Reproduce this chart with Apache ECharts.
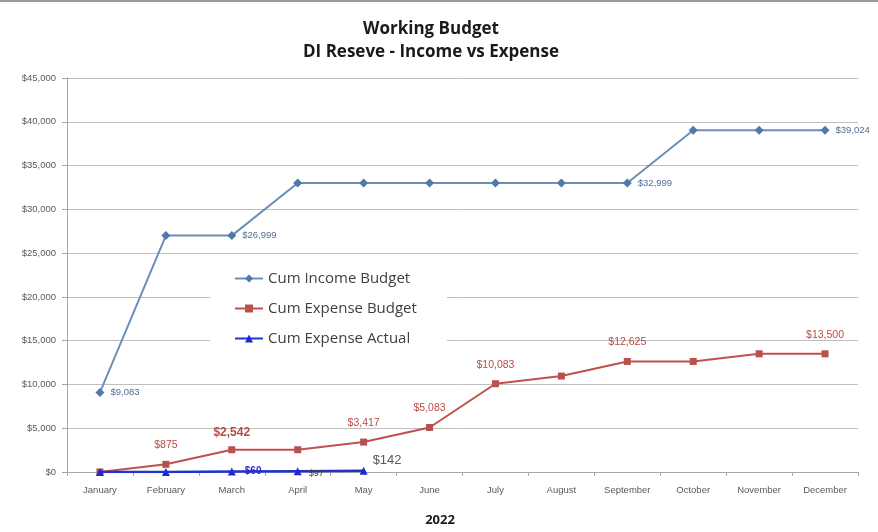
<!DOCTYPE html>
<html>
<head>
<meta charset="utf-8">
<script src="https://cdn.jsdelivr.net/npm/echarts@6/dist/echarts.min.js"></script>
<style>html,body{margin:0;padding:0;background:#fff;}#c{width:878px;height:532px;}</style>
</head>
<body>
<div id="c"></div>
<script>
var months = ['January','February','March','April','May','June','July','August','September','October','November','December'];
var incomeBudget = [9083, 26999, 26999, 32999, 32999, 32999, 32999, 32999, 32999, 39024, 39024, 39024];
var expenseBudget = [0, 875, 2542, 2542, 3417, 5083, 10083, 10958, 12625, 12625, 13500, 13500];
var expenseActual = [0, 0, 60, 97, 142];
var incomeLabelIdx = [0, 2, 8, 11];
var expenseLabelIdx = [1, 2, 4, 5, 6, 8, 11];
var actualLabelIdx = [2, 3, 4];
var yTicks = [0, 5000, 10000, 15000, 20000, 25000, 30000, 35000, 40000, 45000];

function money(v){ return '$' + Math.round(v).toString().replace(/\B(?=(\d{3})+(?!\d))/g, ','); }

var incomeData = incomeBudget.map(function(v,i){
  return {value:v, label:{show: incomeLabelIdx.indexOf(i) >= 0}};
});
var expenseData = expenseBudget.map(function(v,i){
  var o = {value:v, label:{show: expenseLabelIdx.indexOf(i) >= 0}};
  if (i === 2) { o.label.fontSize = 12; o.label.fontWeight = 'bold'; o.label.distance = 8; }
  return o;
});
var actualData = expenseActual.map(function(v,i){
  var o = {value:v, label:{show: actualLabelIdx.indexOf(i) >= 0}};
  if (i === 2) { o.label.color = '#2a2ad0'; o.label.fontWeight = 'bold'; o.label.fontSize = 10; o.label.offset = [4, 0]; }
  if (i === 3) { o.label.color = '#404040'; o.label.fontSize = 9; o.label.offset = [2, 2]; }
  if (i === 4) { o.label.color = '#595959'; o.label.fontSize = 13; o.label.offset = [0, -10]; }
  return o;
});

var chart = echarts.init(document.getElementById('c'), null, {renderer:'canvas'});
chart.setOption({
  backgroundColor: '#ffffff',
  animation: false,
  title: [{
    text: 'Working Budget\nDI Reseve - Income vs Expense',
    left: 426, top: 13, textAlign: 'center',
    textStyle: {fontFamily: 'Open Sans', fontSize: 17, fontWeight: 'bold', color: '#1a1a1a', lineHeight: 23}
  }, {
    text: '2022',
    left: 435, top: 509, textAlign: 'center',
    textStyle: {fontFamily: 'Open Sans', fontSize: 13, fontWeight: 'bold', color: '#1a1a1a'}
  }],
  graphic: [{type:'rect', shape:{x:0,y:0,width:878,height:2}, style:{fill:'#9a9a9a'}}],
  legend: {
    orient: 'vertical',
    left: 210, top: 261,
    backgroundColor: '#ffffff',
    padding: [10, 30, 14, 24],
    itemGap: 15,
    itemWidth: 28, itemHeight: 10,
    textStyle: {fontFamily: 'Open Sans', fontSize: 15, color: '#404040'},
    data: ['Cum Income Budget', 'Cum Expense Budget', 'Cum Expense Actual']
  },
  grid: {left: 67, right: 20, top: 78, bottom: 60},
  xAxis: {
    type: 'category',
    data: months,
    boundaryGap: true,
    axisLine: {lineStyle: {color: '#a6a6a6', width: 1}},
    axisTick: {show: true, length: 4, lineStyle: {color: '#a6a6a6'}},
    axisLabel: {fontFamily: 'Liberation Sans', fontSize: 9.5, color: '#595959', margin: 13, interval: 0}
  },
  yAxis: {
    type: 'value',
    min: 0, max: 45000, interval: 5000,
    axisLine: {show: true, lineStyle: {color: '#a6a6a6'}},
    axisTick: {show: true, length: 5, lineStyle: {color: '#a6a6a6'}},
    axisLabel: {fontFamily: 'Liberation Sans', fontSize: 9.5, color: '#595959', margin: 11,
      formatter: function(v){ return yTicks.indexOf(v) >= 0 ? money(v) : ''; }},
    splitLine: {lineStyle: {color: '#bfbfbf', width: 1}}
  },
  series: [{
    name: 'Cum Income Budget',
    type: 'line',
    data: incomeData,
    symbol: 'diamond', symbolSize: 9,
    itemStyle: {color: '#4f79a8'},
    lineStyle: {color: '#6b8fb8', width: 2},
    label: {position: 'right', distance: 6, formatter: function(p){ return money(p.value); },
      fontFamily: 'Liberation Sans', fontSize: 9.5, color: '#4f6f9a'},
    z: 3
  }, {
    name: 'Cum Expense Budget',
    type: 'line',
    data: expenseData,
    symbol: 'rect', symbolSize: 7,
    itemStyle: {color: '#b8504d'},
    lineStyle: {color: '#c0504d', width: 2},
    label: {position: 'top', distance: 10, formatter: function(p){ return money(p.value); },
      fontFamily: 'Liberation Sans', fontSize: 10.5, color: '#b84a46'},
    z: 4
  }, {
    name: 'Cum Expense Actual',
    type: 'line',
    data: actualData,
    symbol: 'triangle', symbolSize: 8,
    itemStyle: {color: '#1e2ad6'},
    lineStyle: {color: '#2233cc', width: 2.5},
    label: {position: 'right', distance: 5, formatter: function(p){ return money(p.value); },
      fontFamily: 'Liberation Sans', fontSize: 9, color: '#404040'},
    z: 5
  }]
});
</script>
</body>
</html>
